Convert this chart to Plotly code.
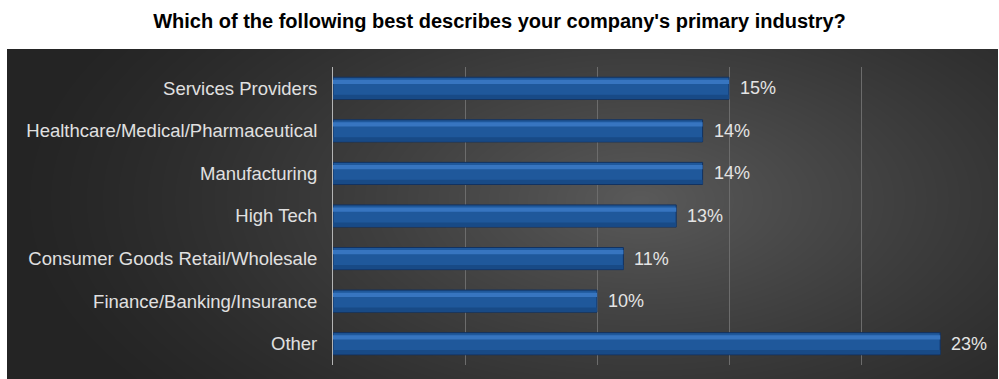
import base64
import struct
import zlib

import numpy as np
import plotly.graph_objects as go

# Survey results: share of respondents by primary industry (%)
industries = [
    "Services Providers",
    "Healthcare/Medical/Pharmaceutical",
    "Manufacturing",
    "High Tech",
    "Consumer Goods Retail/Wholesale",
    "Finance/Banking/Insurance",
    "Other",
]
shares = [15, 14, 14, 13, 11, 10, 23]

title_text = "Which of the following best describes your company's primary industry?"

W, H = 999, 379
# plot area in pixels
PL, PR, PT, PB = 333, 993, 67, 365
# dark backdrop panel in pixels
BX0, BX1, BY0, BY1 = 7, 998, 49, 379

FONT = "Arial, Liberation Sans, sans-serif"


def png_data_uri(rgb):
    h, w, _ = rgb.shape
    raw = b"".join(b"\x00" + rgb[r].tobytes() for r in range(h))

    def chunk(tag, data):
        c = tag + data
        return struct.pack(">I", len(data)) + c + struct.pack(">I", zlib.crc32(c) & 0xFFFFFFFF)

    png = b"\x89PNG\r\n\x1a\n"
    png += chunk(b"IHDR", struct.pack(">IIBBBBB", w, h, 8, 2, 0, 0, 0))
    png += chunk(b"IDAT", zlib.compress(raw, 9))
    png += chunk(b"IEND", b"")
    return "data:image/png;base64," + base64.b64encode(png).decode()


# radial grey gradient for the backdrop
bw, bh = BX1 - BX0, BY1 - BY0
yy, xx = np.mgrid[0:bh, 0:bw].astype(float)
cx, cy = 640 - BX0, 200 - BY0
d = np.sqrt(((xx - cx) / 640.0) ** 2 + ((yy - cy) / 330.0) ** 2)
d = np.clip(d, 0, 1)
inner, outer = 90.0, 36.0
g = outer + (inner - outer) * (1 - d) ** 1.3
g = np.clip(g, 0, 255).astype(np.uint8)
bg = np.stack([g, g, g], axis=-1)
bg_uri = png_data_uri(bg)

pw, ph = PR - PL, PB - PT
img_x0 = (BX0 - PL) / pw
img_sx = bw / pw
img_y1 = (PB - BY0) / ph
img_sy = bh / ph

bar_w = 0.52
fig = go.Figure()

# main bar body
fig.add_trace(go.Bar(
    y=industries, x=shares, orientation="h",
    width=bar_w, offset=-bar_w / 2,
    marker=dict(color="#1f589b", line=dict(color="#123260", width=1)),
    hoverinfo="skip", showlegend=False,
))
# glossy highlight band near the top edge
fig.add_trace(go.Bar(
    y=industries, x=shares, orientation="h",
    width=0.10, offset=-bar_w / 2 + 0.06,
    marker=dict(color="#3775c0", line=dict(width=0)),
    hoverinfo="skip", showlegend=False,
))
# darker bottom shade
fig.add_trace(go.Bar(
    y=industries, x=shares, orientation="h",
    width=0.10, offset=bar_w / 2 - 0.11,
    marker=dict(color="#184a86", line=dict(width=0)),
    hoverinfo="skip", showlegend=False,
))

# value labels just past each bar end
value_labels = [
    dict(x=v, y=name, text=f"{v}%", xref="x", yref="y",
         xanchor="left", yanchor="middle", xshift=9, showarrow=False,
         font=dict(family=FONT, size=18, color="#e4e4e4"))
    for name, v in zip(industries, shares)
]

fig.update_layout(
    width=W, height=H,
    margin=dict(l=PL, r=W - PR, t=PT, b=H - PB, pad=0),
    paper_bgcolor="white",
    plot_bgcolor="rgba(0,0,0,0)",
    barmode="overlay",
    font=dict(family=FONT, size=18, color="#e0e0e0"),
    title=dict(
        text=f"<b>{title_text}</b>",
        x=0.5, xref="container", xanchor="center",
        y=1 - 21 / H, yref="container", yanchor="middle",
        font=dict(family=FONT, size=20, color="black"),
    ),
    xaxis=dict(
        range=[0, 25], dtick=5, showticklabels=False, ticks="",
        showgrid=True, gridcolor="#6c6c6c", gridwidth=1,
        zeroline=False, showline=False, fixedrange=True,
    ),
    yaxis=dict(
        autorange="reversed", ticks="", ticklabelstandoff=11,
        showgrid=False, showline=True, linecolor="#b4b4b4", linewidth=1,
        tickfont=dict(family=FONT, color="#e0e0e0", size=18.5), fixedrange=True,
    ),
    annotations=value_labels,
    images=[dict(
        source=bg_uri, xref="paper", yref="paper",
        x=img_x0, y=img_y1, sizex=img_sx, sizey=img_sy,
        xanchor="left", yanchor="top", sizing="stretch", layer="below",
    )],
)

fig.write_html("out.html")
